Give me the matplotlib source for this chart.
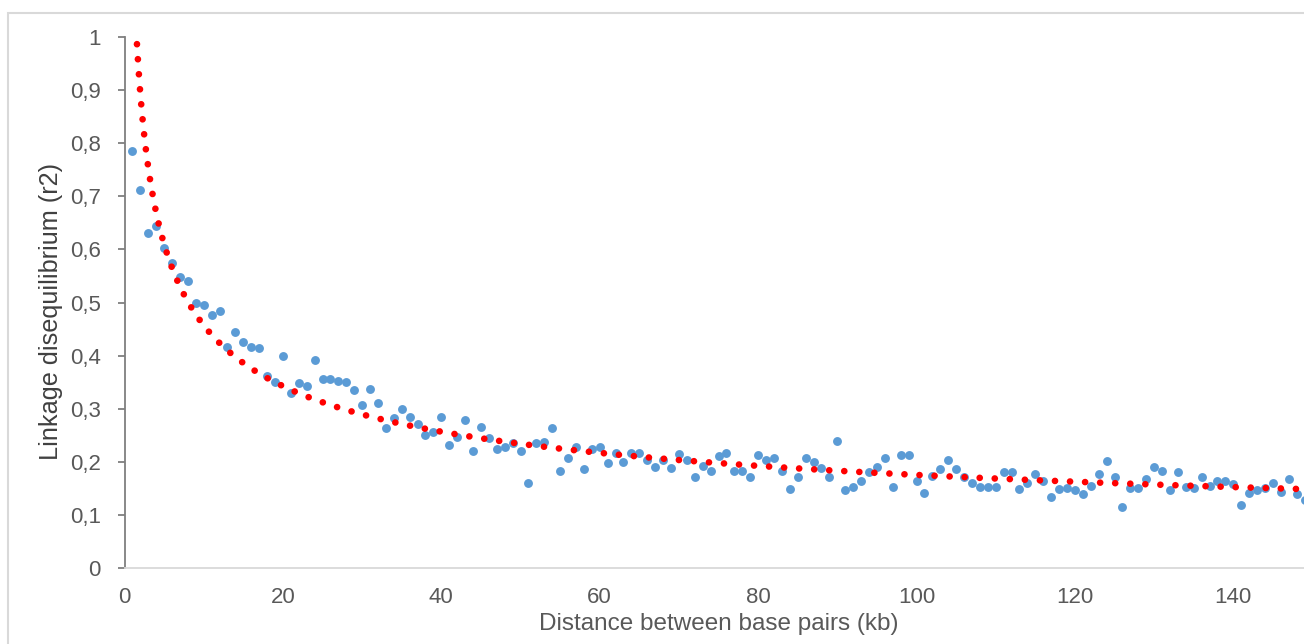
import numpy as np
import matplotlib
matplotlib.use("Agg")
import matplotlib.pyplot as plt
from matplotlib.patches import Rectangle

# ---- data ----
distance_kb = list(range(1, 150))
ld_r2 = [
    0.785, 0.711, 0.631, 0.644, 0.603, 0.575, 0.548, 0.540, 0.499, 0.495,
    0.476, 0.484, 0.417, 0.445, 0.425, 0.417, 0.414, 0.362, 0.351, 0.399,
    0.330, 0.349, 0.343, 0.391, 0.355, 0.355, 0.353, 0.351, 0.335, 0.307,
    0.338, 0.310, 0.263, 0.282, 0.299, 0.285, 0.271, 0.250, 0.257, 0.284,
    0.232, 0.247, 0.279, 0.220, 0.266, 0.244, 0.224, 0.228, 0.236, 0.220,
    0.160, 0.235, 0.237, 0.264, 0.183, 0.208, 0.228, 0.186, 0.225, 0.228,
    0.197, 0.217, 0.200, 0.217, 0.217, 0.203, 0.190, 0.203, 0.188, 0.215,
    0.203, 0.172, 0.192, 0.183, 0.211, 0.216, 0.183, 0.183, 0.172, 0.213,
    0.203, 0.207, 0.183, 0.148, 0.172, 0.207, 0.200, 0.188, 0.171, 0.240,
    0.146, 0.152, 0.164, 0.181, 0.191, 0.207, 0.152, 0.213, 0.213, 0.163,
    0.142, 0.173, 0.186, 0.203, 0.186, 0.172, 0.161, 0.152, 0.152, 0.152,
    0.181, 0.181, 0.148, 0.160, 0.177, 0.163, 0.133, 0.148, 0.150, 0.147,
    0.139, 0.154, 0.177, 0.202, 0.172, 0.114, 0.150, 0.150, 0.167, 0.190,
    0.183, 0.147, 0.181, 0.153, 0.150, 0.172, 0.154, 0.164, 0.164, 0.158,
    0.119, 0.142, 0.147, 0.150, 0.160, 0.144, 0.167, 0.139, 0.128,
]
x_ticks = [0, 20, 40, 60, 80, 100, 120, 140]
y_ticks = [0, 0.1, 0.2, 0.3, 0.4, 0.5, 0.6, 0.7, 0.8, 0.9, 1.0]
y_tick_labels = ["0", "0,1", "0,2", "0,3", "0,4", "0,5", "0,6", "0,7", "0,8", "0,9", "1"]
x_label = "Distance between base pairs (kb)"
y_label = "Linkage disequilibrium (r2)"

# power trend line (Excel-style: least squares in log-log space)
xd = np.array(distance_kb, dtype=float)
yd = np.array(ld_r2, dtype=float)
b, loga = np.polyfit(np.log(xd), np.log(yd), 1)
x_fit = np.linspace(1, 150, 800)
y_fit = np.exp(loga) * x_fit ** b

plt.rcParams["font.family"] = ["Liberation Sans", "DejaVu Sans"]

W, H = 1304, 644
fig = plt.figure(figsize=(W / 100, H / 100), dpi=100)
fig.patch.set_facecolor("white")

# outer chart border
fig.patches.append(Rectangle((8 / W, -0.1), 1.5, 1 - 13 / H + 0.1,
                             transform=fig.transFigure, fill=False,
                             edgecolor="#D9D9D9", linewidth=1.5))

x0, y0px, ytop = 124.5, 568, 37
ax = fig.add_axes([x0 / W, (H - y0px) / H, 1188 / W, (y0px - ytop) / H])
ax.set_facecolor("none")

ax.plot(xd, yd, linestyle="none", marker="o", markersize=6.4,
        markerfacecolor="#5B9BD5", markeredgewidth=0, zorder=2)
ax.plot(x_fit, y_fit, color="#FF0000", linewidth=4.8,
        linestyle=(0, (0.01, 2.25)), dash_capstyle="round", zorder=3)

ax.set_xlim(0, 150)
ax.set_ylim(0, 1)

for s in ["top", "right"]:
    ax.spines[s].set_visible(False)
ax.spines["left"].set_color("#7F7F7F")
ax.spines["left"].set_linewidth(1.3)
ax.spines["bottom"].set_color("#D9D9D9")
ax.spines["bottom"].set_linewidth(1.3)

ax.set_xticks(x_ticks)
ax.set_xticklabels([str(v) for v in x_ticks])
ax.set_yticks(y_ticks)
ax.set_yticklabels(y_tick_labels)
ax.tick_params(axis="y", direction="out", length=5, width=1.3,
               color="#7F7F7F", pad=12, labelsize=16, labelcolor="#595959")
ax.tick_params(axis="x", length=0, pad=14, labelsize=16, labelcolor="#595959")

ax.set_xlabel(x_label, fontsize=17.5, color="#595959")
ax.xaxis.set_label_coords(0.5, (y0px - 613) / (y0px - ytop))
ax.set_ylabel(y_label, fontsize=18.2, color="#404040")
ax.yaxis.set_label_coords((63 - x0) / 1188, (y0px - 311) / (y0px - ytop))

fig.savefig("out.png", dpi=100)
